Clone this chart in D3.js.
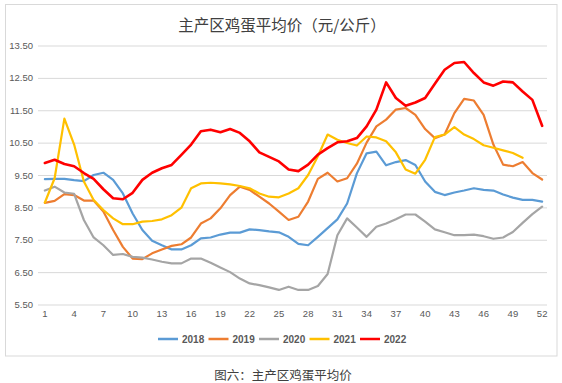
<!DOCTYPE html>
<html><head><meta charset="utf-8">
<script src="https://cdn.jsdelivr.net/npm/d3@7"></script>
<style>
body{margin:0;background:#fff;}
svg{display:block;font-family:"Noto Sans CJK SC","Noto Sans",sans-serif;}
</style></head><body>
<svg id="c" width="562" height="383"></svg>
<script>
const weeks = d3.range(1, 53);
const tickWeeks = [1,4,7,10,13,16,19,22,25,28,31,34,37,40,43,46,49,52];
const yTicks = [5.5,6.5,7.5,8.5,9.5,10.5,11.5,12.5,13.5];
const seriesNames = ["2018","2019","2020","2021","2022"];
const seriesColors = ["#5b9bd5","#ed7d31","#a5a5a5","#ffc000","#ff0000"];

const v2018 = [9.37,9.38,9.38,9.34,9.31,9.5,9.57,9.35,8.93,8.31,7.8,7.47,7.33,7.2,7.2,7.33,7.54,7.57,7.66,7.72,7.72,7.82,7.8,7.76,7.73,7.59,7.37,7.33,7.59,7.86,8.13,8.62,9.55,10.17,10.22,9.8,9.9,9.96,9.81,9.3,8.98,8.88,8.96,9.02,9.09,9.04,9.02,8.9,8.8,8.73,8.73,8.68];
const v2019 = [8.64,8.7,8.91,8.88,8.71,8.71,8.37,7.8,7.28,6.92,6.9,7.08,7.2,7.31,7.36,7.57,8.0,8.16,8.47,8.88,9.14,9.04,8.83,8.62,8.37,8.11,8.21,8.68,9.38,9.57,9.3,9.4,9.85,10.5,11.0,11.21,11.52,11.57,11.36,10.92,10.64,10.75,11.41,11.85,11.8,11.36,10.44,9.82,9.77,9.9,9.56,9.36];
const v2020 = [9.02,9.14,8.96,8.92,8.11,7.57,7.33,7.03,7.06,6.97,6.95,6.89,6.82,6.77,6.77,6.92,6.92,6.79,6.64,6.5,6.3,6.15,6.1,6.03,5.95,6.05,5.95,5.95,6.07,6.44,7.64,8.16,7.88,7.59,7.9,8.0,8.13,8.28,8.28,8.06,7.82,7.73,7.64,7.64,7.66,7.61,7.53,7.57,7.74,8.02,8.29,8.52];
const v2021 = [8.65,9.4,11.24,10.44,9.3,8.73,8.42,8.16,7.98,7.98,8.06,8.08,8.13,8.26,8.49,9.09,9.24,9.26,9.24,9.21,9.16,9.09,8.93,8.83,8.81,8.93,9.09,9.5,10.08,10.75,10.59,10.49,10.41,10.69,10.66,10.54,10.2,9.67,9.54,9.97,10.67,10.75,10.98,10.75,10.61,10.42,10.34,10.26,10.18,10.03];
const v2022 = [9.87,9.97,9.84,9.77,9.56,9.38,9.06,8.78,8.75,8.95,9.35,9.57,9.71,9.81,10.12,10.44,10.85,10.9,10.82,10.92,10.8,10.54,10.2,10.06,9.92,9.67,9.62,9.82,10.13,10.33,10.51,10.54,10.64,11.0,11.52,12.36,11.88,11.64,11.74,11.88,12.32,12.75,12.96,12.99,12.65,12.36,12.26,12.39,12.36,12.08,11.82,11.02];
const allSeries = [v2018, v2019, v2020, v2021, v2022];

const svg = d3.select("#c");
// outer frame
svg.append("rect").attr("x",5.5).attr("y",4.5).attr("width",551.5).attr("height",351.5)
  .attr("fill","none").attr("stroke","#d9d9d9").attr("stroke-width",1);

svg.append("text").attr("x",282).attr("y",31).attr("text-anchor","middle")
  .attr("font-size",15.5).attr("fill","#404040").text("主产区鸡蛋平均价（元/公斤）");

const x = d3.scaleBand().domain(weeks).range([40, 547]);
const xc = w => x(w) + x.bandwidth()/2;
const y = d3.scaleLinear().domain([5.5, 13.5]).range([304.5, 45.5]);

// grid
const yAxis = d3.axisLeft(y).tickValues(yTicks).tickFormat(d3.format(".2f")).tickSize(-(547-38)).tickPadding(5);
const gy = svg.append("g").attr("transform","translate(38,0)").call(yAxis);
gy.select(".domain").remove();
gy.selectAll(".tick line").attr("stroke","#d9d9d9");
gy.selectAll(".tick text").attr("fill","#595959").attr("font-size",9.5).attr("font-family","Arial, 'Liberation Sans', sans-serif");

const xAxis = d3.axisBottom(x).tickValues(tickWeeks).tickSize(0).tickPadding(6);
const gx = svg.append("g").attr("transform","translate(0,304.5)").call(xAxis);
gx.select(".domain").remove();
gx.selectAll(".tick text").attr("fill","#595959").attr("font-size",9.5).attr("font-family","Arial, 'Liberation Sans', sans-serif");

const line = d3.line().x((d,i)=>xc(weeks[i])).y(d=>y(d));
allSeries.forEach((s,i)=>{
  svg.append("path").datum(s).attr("d",line).attr("fill","none")
    .attr("stroke",seriesColors[i]).attr("stroke-width",i===4?2.6:2.2)
    .attr("stroke-linejoin","round").attr("stroke-linecap","round");
});

// legend
const lg = svg.append("g").attr("transform","translate(158,339)");
const itemW = 50.5;
seriesNames.forEach((n,i)=>{
  const g = lg.append("g").attr("transform",`translate(${i*itemW},0)`);
  g.append("line").attr("x1",0).attr("x2",20).attr("y1",0).attr("y2",0)
    .attr("stroke",seriesColors[i]).attr("stroke-width",2.5);
  g.append("text").attr("x",24).attr("y",3.5).attr("font-size",10).attr("font-weight","bold")
    .attr("fill","#595959").attr("font-family","Arial, 'Liberation Sans', sans-serif").text(n);
});

svg.append("text").attr("x",283).attr("y",380).attr("text-anchor","middle")
  .attr("font-size",12.5).attr("fill","#404040").text("图六：主产区鸡蛋平均价");
</script>
</body></html>
